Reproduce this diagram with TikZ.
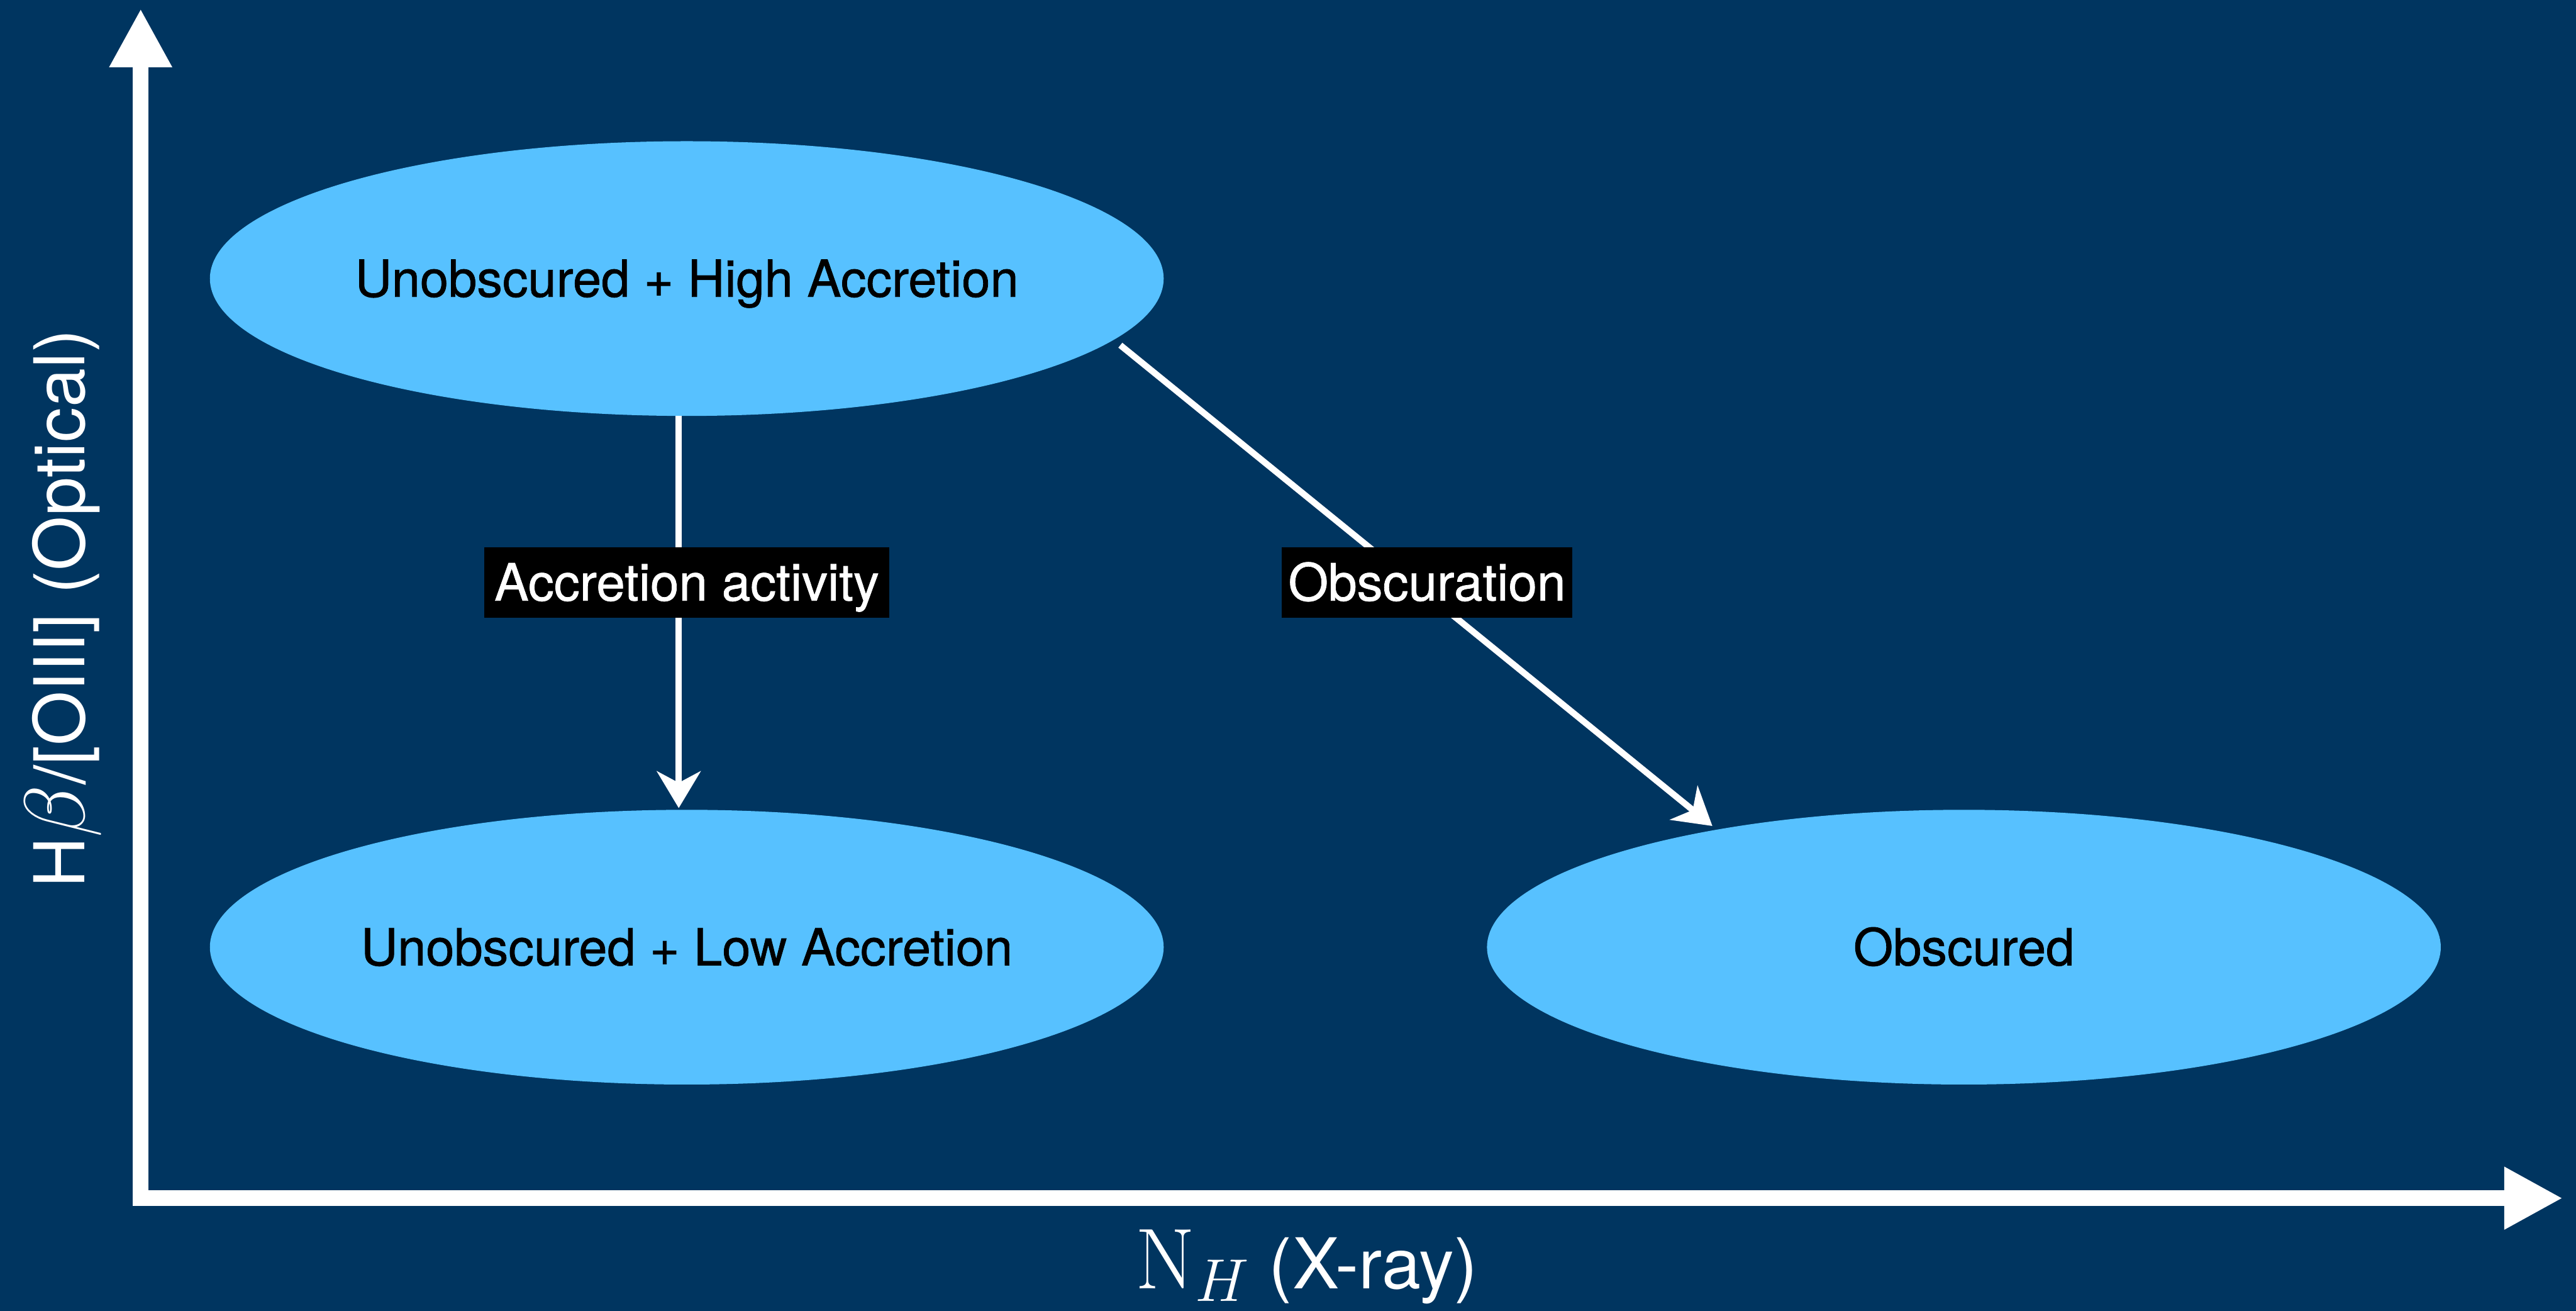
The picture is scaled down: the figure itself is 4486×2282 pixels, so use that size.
\RequirePackage{fix-cm}
\documentclass[tikz,border=0pt]{standalone}
\usepackage[no-math]{fontspec}
\setmainfont{TeX Gyre Heros}
\newfontfamily\medfont[AutoFakeBold=0.9]{TeX Gyre Heros}
\usetikzlibrary{arrows.meta,shapes.geometric,calc}
\definecolor{bgblue}{HTML}{003560}
\definecolor{ellblue}{HTML}{57C1FF}
\tikzset{
  state/.style={ellipse, fill=ellblue, minimum width=16.6cm, minimum height=4.78cm,
    inner sep=0pt, outer sep=0pt, text=black, font=\medfont\bfseries\fontsize{25.3}{30}\selectfont,
    text height=18pt, text depth=0pt},
  tag/.style={fill=black, text=white, font=\medfont\bfseries\fontsize{25.5}{30}\selectfont,
    minimum height=1.22cm, inner xsep=0pt, inner ysep=0pt, text height=18pt, text depth=0pt},
  axis/.style={white, line width=0.27cm, line join=miter},
  flow/.style={white, line width=0.11cm, -{Stealth[length=0.64cm, width=0.76cm, inset=0.2cm]}},
  axlabel/.style={text=white, font=\fontsize{34.7}{40}\selectfont, inner sep=0pt}
}
\begin{document}
\begin{tikzpicture}[x=0.01cm, y=-0.01cm]
\fill[bgblue] (0,0) rectangle (4486,2282);
\useasboundingbox (0,0) rectangle (4486,2282);

% axes
\coordinate (O) at (245,2086);
\coordinate (Ytip) at (245,15);
\coordinate (Xtip) at (4463,2086);
\draw[axis, {Triangle[length=1.02cm,width=1.02cm]}-{Triangle[length=1.02cm,width=1.02cm]}] (Ytip) -- (O) -- (Xtip);

% states
\node[state] (hi) at (1196,485) {Unobscured + High Accretion};
\node[state] (lo) at (1196,1649) {Unobscured + Low Accretion};
\node[state] (ob) at (3420,1649) {Obscured};

% transitions
\draw[flow] ($(hi.south)+(-14,0)$) -- ($(lo.north)+(-14,-3)$);
\draw[flow] ($(hi.center)+(755,116)$) -- ($(ob.center)+(-438,-211)$);

\node[tag, minimum width=7.05cm] (lacc) at (1196,1014) {Accretion activity};
\node[tag, minimum width=5.06cm] (lobs) at (2485,1014) {Obscuration};

% axis labels
\node[axlabel, rotate=90, anchor=base] (ylab) at (147,1060)
  {H{\fontsize{42.7}{50}\selectfont$\beta$}/[OIII] (Optical)};
\node[axlabel, anchor=base] (xlab) at (2275,2243)
  {{\fontsize{42.7}{50}\selectfont$\mathrm{N}_H$} (X-ray)};
\end{tikzpicture}
\end{document}
